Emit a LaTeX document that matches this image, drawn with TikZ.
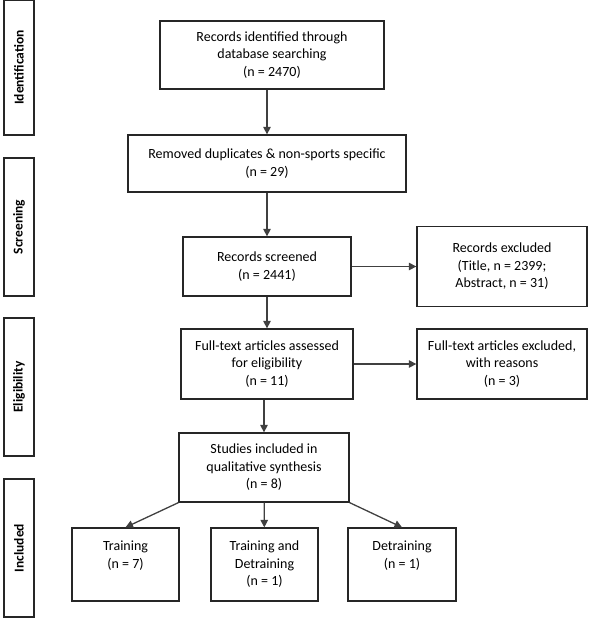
\documentclass[tikz,border=0pt]{standalone}
\usepackage{fontspec}
\setmainfont{Carlito}
\usetikzlibrary{positioning,arrows.meta}

\begin{document}
\begin{tikzpicture}[
  x=1pt, y=1pt,
  block/.style={rectangle, draw=black!85, line width=1.3pt, align=center, inner sep=2pt,
    font=\fontsize{14}{17.5}\selectfont},
  stage/.style={rectangle, draw=black!85, line width=1.3pt, rotate=90, minimum height=30pt,
    font=\bfseries\fontsize{13.5}{16}\selectfont},
  arr/.style={-{Triangle[length=7.5pt,width=7.5pt]}, line width=1.3pt, draw=black!75},
  node distance=100pt
]
\useasboundingbox (0,0) rectangle (589,-622);

% stages on the left
\node[stage, minimum width=135pt] (ident) at (19,-67.5) {Identification};
\node[stage, minimum width=138pt] (screen) at (19,-227) {Screening};
\node[stage, minimum width=138pt] (elig) at (19,-387) {Eligibility};
\node[stage, minimum width=138pt] (incl) at (19,-548) {Included};

% main column
\node[block, minimum width=224pt, minimum height=68pt] (found) at (272,-55)
  {Records identified through\\database searching\\(n = 2470)};
\node[block, below of=found, node distance=108.5pt, xshift=-5pt, minimum width=278pt, minimum height=57pt] (dupl)
  {Removed duplicates \& non-sports specific\\(n = 29)};
\node[block, below of=dupl, node distance=103pt, minimum width=168pt, minimum height=59pt] (screened)
  {Records screened\\(n = 2441)};
\node[block, below of=screened, node distance=97.5pt, minimum width=172pt, minimum height=70pt] (fulltext)
  {Full-text articles assessed\\for eligibility\\(n = 11)};
\node[block, below of=fulltext, node distance=103.5pt, xshift=-3pt, minimum width=170pt, minimum height=69pt] (studies)
  {Studies included in\\qualitative synthesis\\(n = 8)};

% exclusions
\node[block, right of=screened, node distance=235pt, minimum width=170pt, minimum height=80pt] (excl)
  {Records excluded\\(Title, n = 2399;\\Abstract, n = 31)};
\node[block, right of=fulltext, node distance=235pt, minimum width=170pt, minimum height=70pt] (ftexcl)
  {Full-text articles excluded,\\with reasons\\(n = 3)};

% included groups
\node[block, below of=studies, node distance=97pt, xshift=0.5pt, minimum width=107pt, minimum height=73pt] (both)
  {Training and\\Detraining\\(n = 1)};
\node[block, left of=both, node distance=139pt, minimum width=107pt, minimum height=73pt] (train)
  {Training\\(n = 7)\\\phantom{(}};
\node[block, right of=both, node distance=137.5pt, minimum width=108pt, minimum height=73pt] (detrain)
  {Detraining\\(n = 1)\\\phantom{(}};

\draw[arr] (found.south -| dupl) -- (dupl);
\draw[arr] (dupl) -- (screened);
\draw[arr] (screened) -- (excl);
\draw[arr] (screened) -- (fulltext);
\draw[arr] (fulltext) -- (ftexcl);
\draw[arr] (studies.north |- fulltext.south) -- (studies.north);
\draw[arr] (studies.south west) -- (train.north);
\draw[arr] (studies) -- (both);
\draw[arr] (studies.south east) -- (detrain.north);
\end{tikzpicture}
\end{document}
